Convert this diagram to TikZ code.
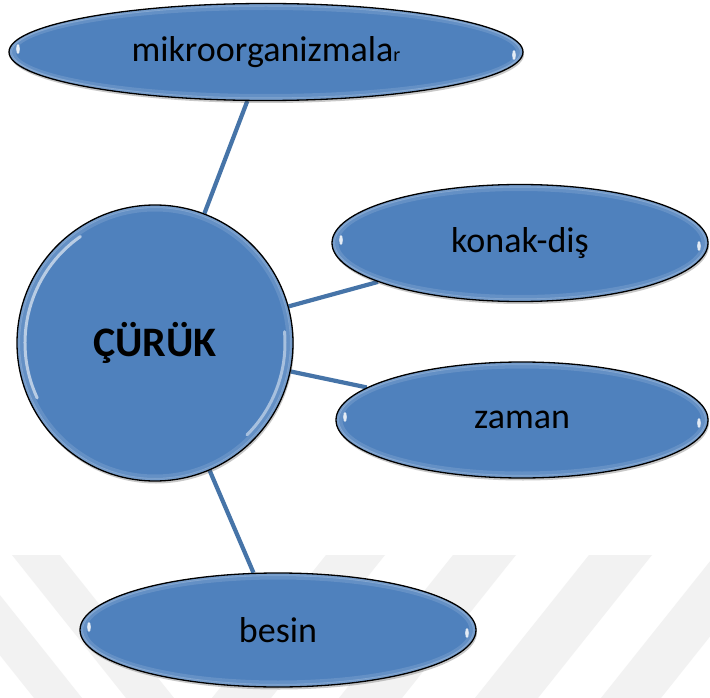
\documentclass[tikz,border=0pt]{standalone}
\usepackage{fontspec}
\setmainfont{Carlito}
\usetikzlibrary{shapes.geometric,shadows,backgrounds,calc}
\definecolor{blobblue}{RGB}{79,129,189}
\definecolor{linkblue}{RGB}{70,116,168}
\definecolor{wmgray}{RGB}{242,242,242}
\tikzset{
  blob/.style={ellipse, draw=black, line width=1.3pt, fill=blobblue, inner sep=0pt,
    font=\fontsize{36}{40}\selectfont,
    drop shadow={shadow xshift=1pt, shadow yshift=-2.5pt, opacity=0.3, fill=black!70},
    path picture={
      \draw[white,opacity=.22,line width=3pt]
        let \p1=(path picture bounding box.north east), \p2=(path picture bounding box.center) in
        (\p2) ellipse [x radius={\x1-\x2-1.5pt}, y radius={\y1-\y2-1.5pt}];
      \draw[white,opacity=.12,line width=4pt]
        let \p1=(path picture bounding box.north east), \p2=(path picture bounding box.center) in
        (\p2) ellipse [x radius={\x1-\x2-4.5pt}, y radius={\y1-\y2-4.5pt}];
      \fill[white,opacity=.85] ([xshift=9pt,yshift=3pt]path picture bounding box.west) ellipse [x radius=1.8pt, y radius=5pt];
      \fill[white,opacity=.85] ([xshift=-9pt,yshift=-3pt]path picture bounding box.east) ellipse [x radius=1.8pt, y radius=5pt];
    }},
  circ/.style={circle, draw=black, line width=1.3pt, fill=blobblue, inner sep=0pt, minimum size=276pt,
    font=\bfseries\fontsize{42}{46}\selectfont,
    drop shadow={shadow xshift=1pt, shadow yshift=-2.5pt, opacity=0.3, fill=black!70},
    path picture={
      \draw[white,opacity=.22,line width=3pt] (path picture bounding box.center) circle [radius=136.5pt];
      \draw[white,opacity=.12,line width=4pt] (path picture bounding box.center) circle [radius=133.5pt];
      \draw[white,opacity=.6,line width=3pt,line cap=round] (path picture bounding box.center) ++(125:130pt) arc[start angle=125,end angle=205,radius=130pt];
      \draw[white,opacity=.5,line width=3pt,line cap=round] (path picture bounding box.center) ++(-45:130pt) arc[start angle=-45,end angle=5,radius=130pt];
    }},
  link/.style={draw=linkblue, line width=4.2pt},
  wm/.style={fill=wmgray, draw=none}
}
\begin{document}
\begin{tikzpicture}[x=1pt,y=-1pt]
\useasboundingbox (0,0) rectangle (710,698);
\begin{scope}[on background layer]
  \fill[white] (0,0) rectangle (710,698);
  \clip (0,0) rectangle (710,698);
  \fill[wm] (326,555) -- (385,555) -- (271,698) -- (212,698) -- cycle;
  \fill[wm] (453,555) -- (516,555) -- (402,698) -- (339,698) -- cycle;
  \fill[wm] (589,555) -- (652,555) -- (538,698) -- (475,698) -- cycle;
  \fill[wm] (715,555) -- (775,555) -- (661,698) -- (601,698) -- cycle;
  \fill[wm] (12,555) -- (60,555) -- (174,698) -- (126,698) -- cycle;
  \fill[wm] (-80,555) -- (-32,555) -- (82,698) -- (34,698) -- cycle;
\end{scope}

\node[circ] (cur) at (155,343) {ÇÜRÜK};
\node[blob, minimum width=514pt, minimum height=97pt] (mik) at (266,52) {mikroorganizmala{\fontsize{20}{20}\selectfont r}};
\node[blob, minimum width=376pt, minimum height=117pt] (kon) at (520,243) {konak-diş};
\node[blob, minimum width=372pt, minimum height=116pt] (zam) at (522,420) {zaman};
\node[blob, minimum width=396pt, minimum height=114pt] (bes) at (278,630) {besin};

\begin{scope}[on background layer]
  \draw[link] (cur) -- (mik);
  \draw[link] (cur) -- (kon);
  \draw[link] (cur) -- (zam);
  \draw[link] (cur) -- (bes);
\end{scope}
\end{tikzpicture}
\end{document}
